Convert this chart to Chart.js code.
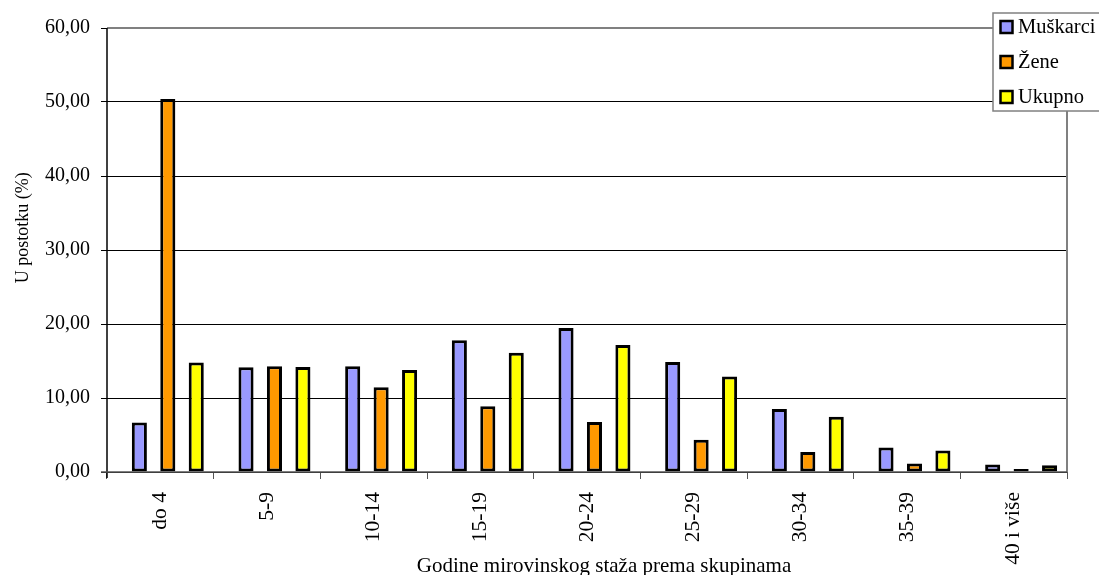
<!DOCTYPE html>
<html>
<head>
<meta charset="utf-8">
<script src="https://cdn.jsdelivr.net/npm/chart.js@4/dist/chart.umd.min.js"></script>
<style>
  html, body { margin: 0; padding: 0; background: #fff; }
  #wrap { width: 1099px; height: 575px; }
</style>
</head>
<body>
<div id="wrap"><canvas id="chart" width="1099" height="575"></canvas></div>
<script>
// kategorije i vrijednosti (u %)
const groups = ["do 4", "5-9", "10-14", "15-19", "20-24", "25-29", "30-34", "35-39", "40 i više"];
const muskarci = [6.7, 14.15, 14.3, 17.8, 19.45, 14.85, 8.5, 3.3, 1.0];
const zene = [50.4, 14.3, 11.45, 8.9, 6.75, 4.35, 2.7, 1.15, 0.4];
const ukupno = [14.8, 14.2, 13.8, 16.1, 17.15, 12.9, 7.45, 2.9, 0.9];
const yTicks = [0, 10, 20, 30, 40, 50, 60];
const yTitle = "U postotku (%)";
const xTitle = "Godine mirovinskog staža prema skupinama";

const serif = "'Liberation Serif', 'Times New Roman', serif";

// Excel pomiče grupu stupaca malo udesno
const shiftBars = {
  id: "shiftBars",
  afterDatasetsUpdate(chart) {
    const x = chart.scales.x;
    const step = x.width / groups.length;
    chart.data.datasets.forEach((ds, i) => {
      chart.getDatasetMeta(i).data.forEach(el => { el.x += step * 0.07; });
    });
  }
};

// okvir plot područja + naslovi osi
const plotFrame = {
  id: "plotFrame",
  afterDraw(chart) {
    const { ctx, chartArea: a } = chart;
    ctx.save();
    ctx.strokeStyle = "#808080";
    ctx.lineWidth = 2;
    ctx.beginPath();
    ctx.moveTo(a.left, a.top);
    ctx.lineTo(a.right, a.top);
    ctx.lineTo(a.right, a.bottom);
    ctx.stroke();
    ctx.strokeStyle = "#000";
    ctx.lineWidth = 1.5;
    ctx.beginPath();
    ctx.moveTo(a.left, a.top);
    ctx.lineTo(a.left, a.bottom + 6);
    ctx.stroke();
    ctx.strokeStyle = "#555";
    ctx.beginPath();
    ctx.moveTo(a.left - 6, a.bottom);
    ctx.lineTo(a.right, a.bottom);
    ctx.stroke();

    ctx.fillStyle = "#000";
    ctx.textAlign = "center";
    ctx.textBaseline = "alphabetic";
    ctx.font = "21px " + serif;
    ctx.fillText(xTitle, 604, 572);

    ctx.translate(23, a.top + (a.bottom - a.top) * 0.45);
    ctx.rotate(-Math.PI / 2);
    ctx.font = "18px " + serif;
    ctx.textBaseline = "middle";
    ctx.fillText(yTitle, 0, 0);
    ctx.restore();
  }
};

// legenda u gornjem desnom kutu
const boxLegend = {
  id: "boxLegend",
  afterDraw(chart) {
    const ctx = chart.ctx;
    const x0 = 993, y0 = 13, w = 110, h = 98;
    ctx.save();
    ctx.fillStyle = "#fff";
    ctx.fillRect(x0, y0, w, h);
    ctx.strokeStyle = "#808080";
    ctx.lineWidth = 1.5;
    ctx.strokeRect(x0, y0, w, h);
    ctx.font = "20.5px " + serif;
    ctx.textBaseline = "middle";
    chart.data.datasets.forEach((ds, i) => {
      const cy = y0 + 14 + i * 35;
      ctx.fillStyle = ds.backgroundColor;
      ctx.fillRect(x0 + 7.5, cy - 6, 12, 12);
      ctx.strokeStyle = "#000";
      ctx.lineWidth = 2.5;
      ctx.strokeRect(x0 + 7.5, cy - 6, 12, 12);
      ctx.fillStyle = "#000";
      ctx.fillText(ds.label, x0 + 25, cy + 1);
    });
    ctx.restore();
  }
};

const barStyle = { borderColor: "#000", borderWidth: 3, borderSkipped: false, categoryPercentage: 0.8, barPercentage: 0.53 };

new Chart(document.getElementById("chart"), {
  type: "bar",
  data: {
    labels: groups,
    datasets: [
      { label: "Muškarci", data: muskarci, backgroundColor: "#9999FF", ...barStyle },
      { label: "Žene", data: zene, backgroundColor: "#FF9900", ...barStyle },
      { label: "Ukupno", data: ukupno, backgroundColor: "#FFFF00", ...barStyle }
    ]
  },
  options: {
    responsive: false,
    animation: false,
    layout: { padding: { top: 28, right: 32, left: 0, bottom: 0 } },
    plugins: {
      legend: { display: false },
      tooltip: { enabled: false }
    },
    scales: {
      x: {
        afterFit(s) { s.height = 103; },
        grid: { display: true, drawOnChartArea: false, drawTicks: true, tickLength: 7, color: "#555", offset: true },
        border: { display: false },
        ticks: {
          color: "#000",
          font: { family: serif, size: 21.5 },
          minRotation: 90,
          maxRotation: 90,
          padding: 13
        }
      },
      y: {
        min: 0,
        max: 60,
        afterFit(s) { s.width = 107; },
        afterBuildTicks(s) { s.ticks = yTicks.map(v => ({ value: v })); },
        grid: { color: "#000", lineWidth: 1, tickLength: 6 },
        border: { display: false },
        ticks: {
          color: "#000",
          font: { family: serif, size: 20 },
          padding: 11,
          callback: v => v.toFixed(2).replace(".", ",")
        }
      }
    }
  },
  plugins: [shiftBars, plotFrame, boxLegend]
});
</script>
</body>
</html>
